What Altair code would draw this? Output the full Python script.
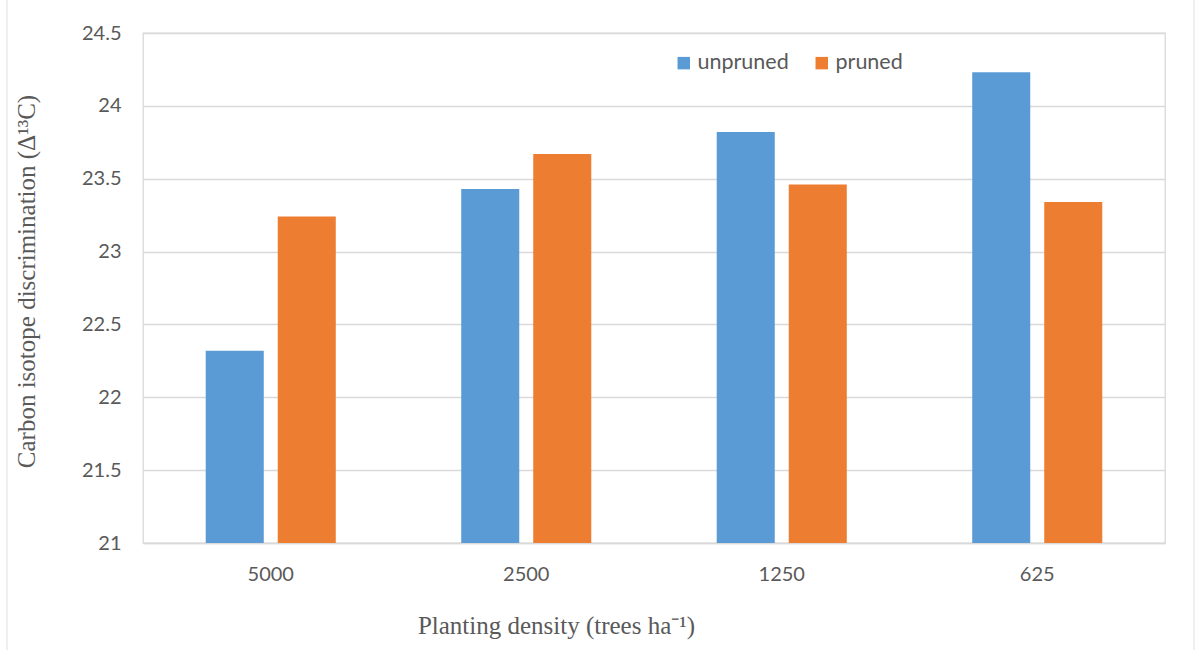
import altair as alt
import pandas as pd

# Mean carbon isotope discrimination by planting density and pruning treatment
densities = ["5000", "2500", "1250", "625"]
treatments = ["unpruned", "pruned"]
unpruned = [22.32, 23.43, 23.82, 24.23]
pruned = [23.24, 23.67, 23.46, 23.34]
colors = ["#5B9BD5", "#ED7D31"]
y_ticks = [21, 21.5, 22, 22.5, 23, 23.5, 24, 24.5]

rows = []
for i, d in enumerate(densities):
    rows.append({"density": d, "treatment": "unpruned", "value": unpruned[i]})
    rows.append({"density": d, "treatment": "pruned", "value": pruned[i]})
df = pd.DataFrame(rows)

W, H = 1022, 510
GRAY = "#595959"
LINE = "#D9D9D9"

bars = alt.Chart(df).mark_bar().encode(
    x=alt.X(
        "density:N",
        sort=densities,
        scale=alt.Scale(paddingInner=0.491, paddingOuter=0.2455),
        axis=alt.Axis(
            title="Planting density (trees ha⁻¹)",
            labelAngle=0,
            labelFont="Lato",
            labelFontSize=20,
            labelColor=GRAY,
            labelPadding=21,
            ticks=False,
            domain=True,
            domainColor=LINE,
            domainWidth=1.3,
            grid=False,
            titleFont="Liberation Serif",
            titleFontSize=25,
            titleFontWeight="normal",
            titleColor=GRAY,
            titlePadding=29,
            titleX=413,
        ),
    ),
    xOffset=alt.XOffset(
        "treatment:N",
        sort=treatments,
        scale=alt.Scale(paddingInner=0.194, paddingOuter=0),
    ),
    y=alt.Y(
        "value:Q",
        scale=alt.Scale(domain=[21, 24.5], zero=False, nice=False),
        axis=alt.Axis(
            title="Carbon isotope discrimination  (Δ¹³C)",
            values=y_ticks,
            format="~g",
            labelFont="Lato",
            labelFontSize=20,
            labelColor=GRAY,
            labelPadding=22,
            ticks=False,
            domain=False,
            grid=True,
            gridColor=LINE,
            gridWidth=1.3,
            titleFont="Liberation Serif",
            titleFontSize=25,
            titleFontWeight="normal",
            titleColor=GRAY,
            titlePadding=42,
            titleY=248,
        ),
    ),
    y2=alt.datum(21),
    color=alt.Color(
        "treatment:N",
        sort=treatments,
        scale=alt.Scale(domain=treatments, range=colors),
        legend=alt.Legend(
            title=None,
            orient="none",
            legendX=530,
            legendY=19,
            direction="horizontal",
            symbolType="square",
            symbolSize=155,
            symbolStrokeWidth=0,
            labelFont="Lato",
            labelFontSize=21.5,
            labelColor=GRAY,
            labelOffset=3,
            columnPadding=22,
        ),
    ),
)

# Thin outer frame lines of the chart area
left_edge = alt.Chart().mark_rule(color="#E6E6E6", strokeWidth=1.3).encode(
    x=alt.value(-136), y=alt.value(-33), y2=alt.value(617)
)
right_edge = alt.Chart().mark_rule(color="#E6E6E6", strokeWidth=1.3).encode(
    x=alt.value(1051), y=alt.value(-33), y2=alt.value(617)
)

chart = alt.layer(bars, left_edge, right_edge).properties(
    width=W,
    height=H,
    autosize=alt.AutoSizeParams(type="none"),
    padding={"left": 143, "top": 33, "right": 30, "bottom": 107},
    background="white",
).configure_view(stroke=LINE, strokeWidth=1.3)

chart.save("out.html", embed_options={"renderer": "svg", "actions": False})
